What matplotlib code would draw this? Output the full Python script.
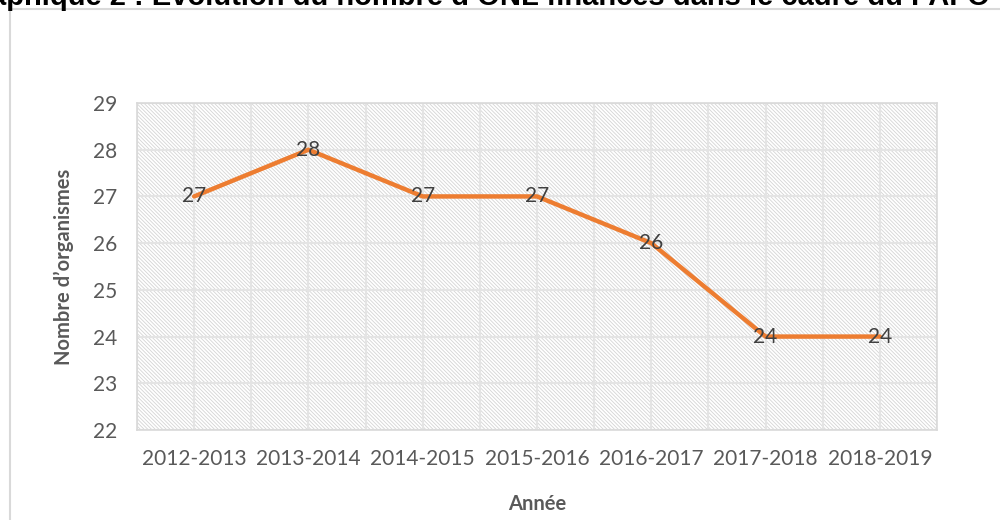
import matplotlib
matplotlib.use("Agg")
import matplotlib.pyplot as plt
from matplotlib.patches import Rectangle
from matplotlib.ticker import MultipleLocator

# Nombre d'organismes financés par année
annees = ['2012-2013', '2013-2014', '2014-2015', '2015-2016',
          '2016-2017', '2017-2018', '2018-2019']
organismes = [27, 28, 27, 27, 26, 24, 24]

titre = "Graphique 2 : Évolution du nombre d\u2019ONL financés dans le cadre du PAFO"

plt.rcParams['font.family'] = ['Lato', 'DejaVu Sans']
plt.rcParams['hatch.linewidth'] = 0.6

fig = plt.figure(figsize=(10, 5.2), dpi=100)
ax = fig.add_axes([0.137, 0.1731, 0.800, 0.6288])

x = list(range(len(annees)))

# fond hachuré de la zone de tracé
ax.add_patch(Rectangle((0, 0), 1, 1, transform=ax.transAxes, facecolor='white',
                       edgecolor='#d4d4d4', linewidth=0, hatch='\\' * 9,
                       zorder=0))

ax.plot(x, organismes, color='#ED7D31', linewidth=3.2, solid_capstyle='round',
        zorder=3)

for xi, v in zip(x, organismes):
    ax.text(xi, v, str(v), ha='center', va='center', fontsize=15,
            color='#404040', zorder=4)

ax.set_xlim(-0.5, len(annees) - 0.5)
ax.set_ylim(22, 29)
ax.set_xticks(x)
ax.set_xticklabels(annees)
ax.xaxis.set_minor_locator(MultipleLocator(0.5))
ax.yaxis.set_major_locator(MultipleLocator(1))

ax.grid(True, which='both', axis='x', color='#e4e4e4', linewidth=1.5, zorder=1)
ax.grid(True, which='major', axis='y', color='#e4e4e4', linewidth=1.5, zorder=1)
ax.set_axisbelow(True)

ax.tick_params(axis='both', which='both', length=0, labelsize=15,
               labelcolor='#595959')
ax.tick_params(axis='x', pad=14)
ax.tick_params(axis='y', pad=14)

for s in ax.spines.values():
    s.set_color('#d9d9d9')
    s.set_linewidth(1.2)

ax.set_xlabel('Année', fontsize=14.5, fontweight='bold', color='#595959',
              labelpad=18)
ax.set_ylabel('Nombre d\u2019organismes', fontsize=14.5, fontweight='bold',
              color='#595959', labelpad=14)

# cadre du graphique
fig.patches.append(Rectangle((0.010, -0.1), 1.2, 1 - 9 / 520 + 0.1,
                             transform=fig.transFigure, fill=False,
                             edgecolor='#d9d9d9', linewidth=1.5))

# titre tronqué en haut
fig.text(-0.044, 1 - 5 / 520, titre, ha='left', va='baseline', fontsize=21,
         fontweight='bold', family=['Liberation Sans', 'DejaVu Sans'],
         color='black')

fig.savefig('out.png', dpi=100)
